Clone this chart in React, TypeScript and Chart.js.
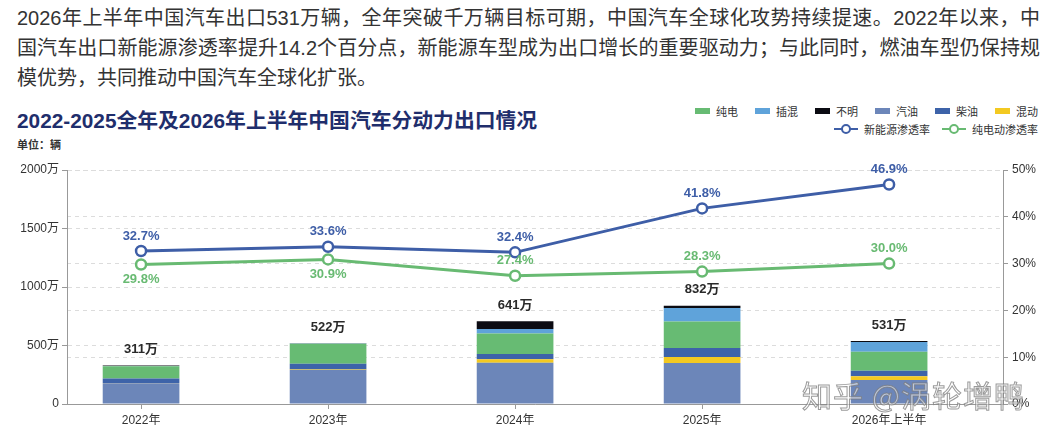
import React, { useEffect, useRef } from "react";
import { Chart, registerables } from "chart.js";

Chart.register(...registerables);

const categories = ["2022年", "2023年", "2024年", "2025年", "2026年上半年"];
// stacked segments (万辆), bottom to top
const gasoline = [178, 290, 353, 350, 205];
const hybrid = [2, 5, 29, 51, 32];
const diesel = [38, 50, 45, 77, 48];
const bev = [104, 170, 175, 228, 162];
const phev = [3, 3, 40, 114, 83];
const unknown = [3, 2, 66, 20, 8];
// labels of totals
const totals = [311, 522, 641, 832, 531];
// penetration rates (%)
const nevRate = [32.7, 33.6, 32.4, 41.8, 46.9];
const bevRate = [29.8, 30.9, 27.4, 28.3, 30.0];

const leftTicks = [0, 500, 1000, 1500, 2000];
const rightTicks = [0, 10, 20, 30, 40, 50];

const C = {
  gasoline: "#6c86b9",
  hybrid: "#f3c921",
  diesel: "#3d63a9",
  bev: "#67bb73",
  phev: "#5fa3da",
  unknown: "#0b0b12",
  nevLine: "#3e5ea7",
  bevLine: "#68ba72",
};

const FONT = '"Liberation Sans", "Noto Sans CJK SC", sans-serif';

const labelPlugin = {
  id: "customLabels",
  afterDatasetsDraw(chart: any) {
    const ctx = chart.ctx;
    ctx.save();
    ctx.textAlign = "center";
    ctx.textBaseline = "middle";
    const barIdx = [0, 1, 2, 3, 4, 5];
    ctx.font = `bold 13px ${FONT}`;
    ctx.fillStyle = "#2a2a2a";
    totals.forEach((t, i) => {
      let top = Infinity;
      let x = 0;
      barIdx.forEach((d) => {
        const el = chart.getDatasetMeta(d).data[i];
        if (el && el.y < top) {
          top = el.y;
          x = el.x;
        }
      });
      ctx.fillText(t + "万", x, top - 16);
    });
    const nevMeta = chart.getDatasetMeta(6);
    const bevMeta = chart.getDatasetMeta(7);
    ctx.font = `600 13px ${FONT}`;
    nevMeta.data.forEach((p: any, i: number) => {
      ctx.fillStyle = C.nevLine;
      ctx.fillText(nevRate[i].toFixed(1) + "%", p.x, p.y - 15);
    });
    bevMeta.data.forEach((p: any, i: number) => {
      const gap = p.y - nevMeta.data[i].y;
      const below = gap < 18;
      ctx.fillStyle = C.bevLine;
      ctx.fillText(bevRate[i].toFixed(1) + "%", p.x, below ? p.y + 15 : p.y - 15);
    });
    ctx.restore();
  },
};

function ChartCanvas() {
  const ref = useRef<HTMLCanvasElement>(null);
  useEffect(() => {
    if (!ref.current) return;
    const barDs = (label: string, data: number[], color: string) => ({
      type: "bar" as const,
      label,
      data,
      backgroundColor: color,
      borderWidth: 0,
      yAxisID: "y",
      order: 2,
      categoryPercentage: 1,
      barPercentage: 0.41,
      stack: "s",
    });
    const lineDs = (label: string, data: number[], color: string) => ({
      type: "line" as const,
      label,
      data,
      borderColor: color,
      backgroundColor: "#fff",
      borderWidth: 3,
      pointRadius: 5,
      pointBorderWidth: 2.5,
      pointBackgroundColor: "#fff",
      pointBorderColor: color,
      yAxisID: "y1",
      order: 1,
      tension: 0,
    });
    const chart = new Chart(ref.current, {
      type: "bar",
      data: {
        labels: categories,
        datasets: [
          barDs("汽油", gasoline, C.gasoline),
          barDs("混动", hybrid, C.hybrid),
          barDs("柴油", diesel, C.diesel),
          barDs("纯电", bev, C.bev),
          barDs("插混", phev, C.phev),
          barDs("不明", unknown, C.unknown),
          lineDs("新能源渗透率", nevRate, C.nevLine),
          lineDs("纯电动渗透率", bevRate, C.bevLine),
        ] as any,
      },
      options: {
        animation: false,
        responsive: true,
        maintainAspectRatio: false,
        layout: { padding: { top: 20, left: 0, right: 0, bottom: 0 } },
        plugins: { legend: { display: false }, tooltip: { enabled: false } },
        scales: {
          x: {
            stacked: true,
            offset: false,
            afterBuildTicks: (s: any) => {
              // categories are not centred: wider margin on the right side
              s._startValue = -0.396;
              s._valueRange = 5.005;
            },
            grid: {
              drawOnChartArea: false,
              drawTicks: true,
              tickLength: 5,
              offset: false,
              color: "#999",
            },
            border: { color: "#999", width: 1 },
            ticks: { color: "#333", font: { size: 12, family: FONT }, padding: 4 },
            afterFit: (s: any) => {
              s.height = 40;
            },
          },
          y: {
            stacked: true,
            min: 0,
            max: 2000,
            afterBuildTicks: (s: any) => {
              s.ticks = leftTicks.map((v) => ({ value: v }));
            },
            ticks: {
              color: "#333",
              font: { size: 12, family: FONT },
              padding: 3,
              callback: (v: any) => (v === 0 ? "0" : v + "万"),
            },
            grid: { color: "#dcdcdc", tickColor: "#999", tickLength: 5 },
            border: { color: "#999", width: 1, dash: [4, 4] },
            afterFit: (s: any) => {
              s.width = 67;
            },
          },
          y1: {
            position: "right",
            min: 0,
            max: 50,
            afterBuildTicks: (s: any) => {
              s.ticks = rightTicks.map((v) => ({ value: v }));
            },
            ticks: {
              color: "#333",
              font: { size: 12, family: FONT },
              padding: 4,
              callback: (v: any) => v + "%",
            },
            grid: { color: "#dcdcdc", tickColor: "#999", tickLength: 5 },
            border: { color: "#999", width: 1, dash: [4, 4] },
            afterFit: (s: any) => {
              s.width = 48;
            },
          },
        },
      } as any,
      plugins: [labelPlugin],
    });
    return () => chart.destroy();
  }, []);
  return <canvas ref={ref} />;
}

const boxLegend = [
  { label: "纯电", color: C.bev },
  { label: "插混", color: C.phev },
  { label: "不明", color: C.unknown },
  { label: "汽油", color: C.gasoline },
  { label: "柴油", color: C.diesel },
  { label: "混动", color: C.hybrid },
];
const lineLegend = [
  { label: "新能源渗透率", color: C.nevLine },
  { label: "纯电动渗透率", color: C.bevLine },
];

export default function App() {
  const textStyle: React.CSSProperties = {
    fontFamily: FONT,
    fontSize: 20,
    color: "#333",
    lineHeight: "30px",
    height: 30,
    whiteSpace: "nowrap",
  };
  return (
    <div style={{ position: "relative", width: 1051, height: 444, overflow: "hidden", background: "#fff" }}>
      <style>{"body{margin:0;overflow:hidden;background:#fff}"}</style>
      <div style={{ position: "absolute", left: 17, top: 3, width: 1023 }}>
        <div style={{ ...textStyle, textAlign: "justify", textAlignLast: "justify" }}>
          2026年上半年中国汽车出口531万辆，全年突破千万辆目标可期，中国汽车全球化攻势持续提速。2022年以来，中
        </div>
        <div style={{ ...textStyle, textAlign: "justify", textAlignLast: "justify" }}>
          国汽车出口新能源渗透率提升14.2个百分点，新能源车型成为出口增长的重要驱动力；与此同时，燃油车型仍保持规
        </div>
        <div style={textStyle}>模优势，共同推动中国汽车全球化扩张。</div>
      </div>
      <div
        style={{
          position: "absolute",
          left: 17,
          top: 107,
          fontFamily: FONT,
          fontSize: 20.8,
          fontWeight: 700,
          color: "#1f2e6c",
          lineHeight: "28px",
          whiteSpace: "nowrap",
        }}
      >
        2022-2025全年及2026年上半年中国汽车分动力出口情况
      </div>
      <div
        style={{
          position: "absolute",
          left: 17,
          top: 137,
          fontFamily: FONT,
          fontSize: 11,
          fontWeight: 700,
          color: "#333",
          lineHeight: "16px",
        }}
      >
        单位：辆
      </div>
      <div style={{ position: "absolute", right: 13, top: 102, fontFamily: FONT, fontSize: 11, color: "#333" }}>
        <div style={{ display: "flex", justifyContent: "flex-end", alignItems: "center", height: 18 }}>
          {boxLegend.map((l) => (
            <div key={l.label} style={{ display: "flex", alignItems: "center", marginLeft: 17 }}>
              <span style={{ display: "inline-block", width: 15, height: 6, background: l.color, marginRight: 6 }} />
              <span>{l.label}</span>
            </div>
          ))}
        </div>
        <div style={{ display: "flex", justifyContent: "flex-end", alignItems: "center", height: 18 }}>
          {lineLegend.map((l) => (
            <div key={l.label} style={{ display: "flex", alignItems: "center", marginLeft: 12 }}>
              <svg width="24" height="12" style={{ marginRight: 6 }}>
                <line x1="0" y1="6" x2="24" y2="6" stroke={l.color} strokeWidth="2" />
                <circle cx="12" cy="6" r="4" fill="#fff" stroke={l.color} strokeWidth="2" />
              </svg>
              <span>{l.label}</span>
            </div>
          ))}
        </div>
      </div>
      <div style={{ position: "absolute", left: 0, top: 150, width: 1051, height: 294 }}>
        <ChartCanvas />
      </div>
      <div
        style={{
          position: "absolute",
          left: 802,
          top: 374,
          fontFamily: '"Noto Sans CJK SC", sans-serif',
          fontSize: 30,
          lineHeight: "40px",
          color: "rgba(255,255,255,0.55)",
          WebkitTextStroke: "1px rgba(120,120,120,0.75)",
          whiteSpace: "nowrap",
          pointerEvents: "none",
          letterSpacing: 1,
        }}
      >
        知乎 @涡轮增鸭
      </div>
    </div>
  );
}
